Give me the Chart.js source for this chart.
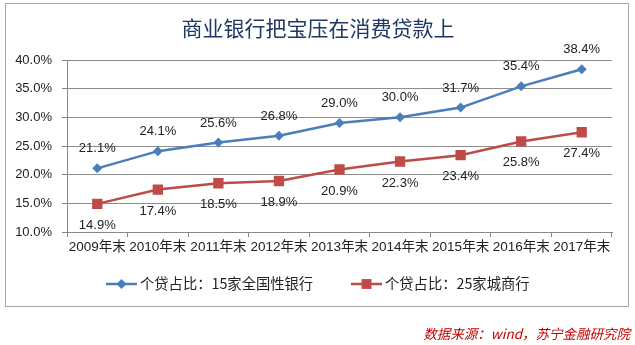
<!DOCTYPE html>
<html>
<head>
<meta charset="utf-8">
<script src="https://cdn.jsdelivr.net/npm/chart.js@4/dist/chart.umd.min.js"></script>
<style>
  html, body { margin: 0; padding: 0; background: #fff; }
  #wrap { position: relative; width: 635px; height: 345px; }
  canvas { position: absolute; left: 0; top: 0; }
</style>
</head>
<body>
<div id="wrap"><canvas id="c" width="635" height="345"></canvas></div>
<script>
const categories = ['2009年末', '2010年末', '2011年末', '2012年末', '2013年末', '2014年末', '2015年末', '2016年末', '2017年末'];
const nationalBanks = [21.1, 24.1, 25.6, 26.8, 29.0, 30.0, 31.7, 35.4, 38.4];
const cityBanks = [14.9, 17.4, 18.5, 18.9, 20.9, 22.3, 23.4, 25.8, 27.4];
const seriesNames = ['个贷占比：15家全国性银行', '个贷占比：25家城商行'];
const yTicks = [10, 15, 20, 25, 30, 35, 40];
const titleText = '商业银行把宝压在消费贷款上';
const sourceText = '数据来源：wind，苏宁金融研究院';

const BLUE = '#4A7EBB';
const RED = '#BE4B48';
const FONT = '"Liberation Sans", "Noto Sans CJK SC", sans-serif';

// Frame, title, value labels, legend and source note
const decorations = {
  id: 'decorations',
  beforeDraw(chart) {
    const ctx = chart.ctx;
    ctx.save();
    ctx.fillStyle = '#fff';
    ctx.fillRect(0, 0, chart.width, chart.height);
    ctx.strokeStyle = '#A6A6A6';
    ctx.lineWidth = 1;
    ctx.strokeRect(5.5, 3.5, 623, 303);
    ctx.restore();
  },
  afterDatasetsDraw(chart) {
    const ctx = chart.ctx;
    ctx.save();
    // title
    ctx.fillStyle = '#1F3864';
    ctx.font = '21px "Noto Sans CJK SC", sans-serif';
    ctx.textAlign = 'center';
    ctx.textBaseline = 'middle';
    ctx.fillText(titleText, 318, 28);

    // value labels: first series above its points, second below
    ctx.fillStyle = '#222';
    ctx.font = '13px ' + FONT;
    chart.data.datasets.forEach((ds, i) => {
      const meta = chart.getDatasetMeta(i);
      meta.data.forEach((pt, j) => {
        const dy = i === 0 ? -19.5 : 21.5;
        ctx.fillText(ds.data[j].toFixed(1) + '%', pt.x, pt.y + dy);
      });
    });

    // legend
    const items = [
      { x: 106, color: BLUE, style: 'rectRot', r: 5, text: seriesNames[0] },
      { x: 351, color: RED, style: 'rect', r: 7, text: seriesNames[1] }
    ];
    const ly = 284;
    items.forEach(it => {
      ctx.strokeStyle = it.color;
      ctx.lineWidth = 2.5;
      ctx.beginPath();
      ctx.moveTo(it.x, ly);
      ctx.lineTo(it.x + 31, ly);
      ctx.stroke();
      ctx.fillStyle = it.color;
      Chart.helpers.drawPoint(ctx, { pointStyle: it.style, radius: it.r, borderWidth: 0 }, it.x + 15.5, ly);
      ctx.fillStyle = '#222';
      ctx.textAlign = 'left';
      ctx.font = '14.3px "Noto Sans CJK SC", sans-serif';
      ctx.fillText(it.text, it.x + 34, ly);
    });

    // source note
    ctx.fillStyle = '#C00000';
    ctx.font = 'italic 13.5px "Noto Sans CJK SC", sans-serif';
    ctx.textAlign = 'right';
    ctx.fillText(sourceText, 630, 334);
    ctx.restore();
  }
};

new Chart(document.getElementById('c'), {
  type: 'line',
  data: {
    labels: categories,
    datasets: [
      {
        label: seriesNames[0],
        data: nationalBanks,
        borderColor: BLUE,
        backgroundColor: BLUE,
        borderWidth: 2.5,
        pointStyle: 'rectRot',
        pointRadius: 5,
        pointBorderWidth: 0,
        tension: 0
      },
      {
        label: seriesNames[1],
        data: cityBanks,
        borderColor: RED,
        backgroundColor: RED,
        borderWidth: 2.5,
        pointStyle: 'rect',
        pointRadius: 7.3,
        pointBorderWidth: 0,
        tension: 0
      }
    ]
  },
  options: {
    responsive: false,
    animation: false,
    devicePixelRatio: 1,
    layout: { padding: { top: 60, left: 0, right: 23, bottom: 83 } },
    plugins: {
      legend: { display: false },
      title: { display: false },
      tooltip: { enabled: false }
    },
    scales: {
      x: {
        offset: true,
        grid: {
          offset: true,
          drawOnChartArea: false,
          drawTicks: true,
          tickLength: 5,
          color: '#868686'
        },
        border: { color: '#868686', width: 1 },
        ticks: {
          color: '#222',
          font: { family: FONT, size: 13.5 },
          padding: 2,
          maxRotation: 0,
          autoSkip: false
        },
        afterFit(scale) { scale.height = 30; }
      },
      y: {
        min: 10,
        max: 40,
        afterBuildTicks(scale) { scale.ticks = yTicks.map(v => ({ value: v })); },
        grid: {
          color: '#8E8E8E',
          tickLength: 5,
          tickColor: '#868686'
        },
        border: { color: '#868686', width: 1 },
        ticks: {
          color: '#222',
          font: { family: FONT, size: 13 },
          padding: 10,
          callback: v => v.toFixed(1) + '%'
        },
        afterFit(scale) { scale.width = 67; }
      }
    }
  },
  plugins: [decorations]
});
</script>
</body>
</html>
